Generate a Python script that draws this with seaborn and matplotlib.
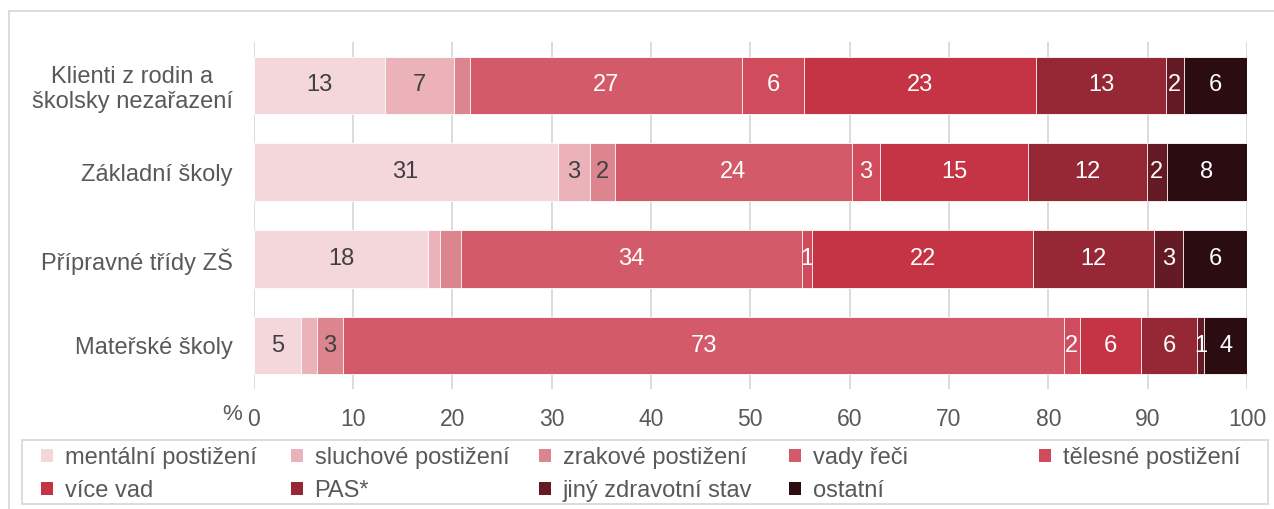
import numpy as np
import pandas as pd
import matplotlib
matplotlib.use("Agg")
import matplotlib.pyplot as plt
from matplotlib.patches import Rectangle
import seaborn as sns

# ---------------- data ----------------
categories = ["Klienti z rodin a\nškolsky nezařazení", "Základní školy",
              "Přípravné třídy ZŠ", "Mateřské školy"]
series = ["mentální postižení", "sluchové postižení", "zrakové postižení",
          "vady řeči", "tělesné postižení", "více vad", "PAS*",
          "jiný zdravotní stav", "ostatní"]

mentalni = [13.2, 30.6, 17.6, 4.8]
sluchove = [7.0, 3.3, 1.2, 1.6]
zrakove = [1.6, 2.45, 2.1, 2.6]
vady_reci = [27.4, 23.85, 34.3, 72.6]
telesne = [6.2, 2.9, 1.05, 1.55]
vice_vad = [23.4, 14.9, 22.25, 6.2]
pas = [13.0, 11.9, 12.1, 5.6]
jiny = [1.85, 2.0, 3.0, 0.75]
ostatni = [6.35, 8.1, 6.4, 4.3]

# (category index, series index) pairs whose value label is not shown
hidden_labels = [(0, 2), (2, 1), (2, 2), (3, 1)]

x_ticks = [0, 10, 20, 30, 40, 50, 60, 70, 80, 90, 100]

colors = ["#F4D7DB", "#EBB3B9", "#DD858E", "#D35A69", "#D04C5D",
          "#C43445", "#962734", "#641A24", "#2B0C10"]
label_colors = ["#404040"] * 3 + ["white"] * 6

# ---------------- figure ----------------
sns.set_style("white")
plt.rcParams["font.family"] = ["Liberation Sans", "DejaVu Sans"]

W, H = 1274, 509
fig = plt.figure(figsize=(W / 100, H / 100), dpi=100)
ax = fig.add_axes([253.5 / W, 1 - 389 / H, (1247 - 253.5) / W, (389 - 42) / H])

df = pd.DataFrame(dict(zip(series, [mentalni, sluchove, zrakove, vady_reci, telesne,
                                    vice_vad, pas, jiny, ostatni])))
df["kategorie"] = categories
cum = df[series].cumsum(axis=1)
cum["kategorie"] = categories

handles = [None] * len(series)
for i in reversed(range(len(series))):
    sns.barplot(data=cum, x=series[i], y="kategorie", color=colors[i], orient="h",
                width=0.66, saturation=1, edgecolor="white", linewidth=0.6, ax=ax)
    handles[i] = ax.containers[-1]

# value labels
for ci in range(len(categories)):
    prev = 0.0
    for si, s in enumerate(series):
        v = df.loc[ci, s]
        end = cum.loc[ci, s]
        if (ci, si) not in hidden_labels:
            ax.text((prev + end) / 2, ci, f"{round(v)}", ha="center", va="center",
                    fontsize=17, color=label_colors[si])
        prev = end

ax.set_xlim(0, 100)
ax.set_ylim(3.5, -0.5)
ax.set_xticks(x_ticks)
ax.set_xlabel("")
ax.set_ylabel("")
for sp in ax.spines.values():
    sp.set_visible(False)
ax.grid(axis="x", color="#D9D9D9", linewidth=1.3)
ax.grid(axis="y", visible=False)
ax.set_axisbelow(True)
ax.tick_params(axis="x", length=0, pad=14, labelsize=16.5, labelcolor="#595959")
ax.tick_params(axis="y", length=0, pad=15, labelsize=17, labelcolor="#595959")
for lab in ax.get_yticklabels():
    lab.set_multialignment("center")

fig.text(242 / W, 1 - 414 / H, "%", ha="right", va="center", fontsize=16, color="#595959")

# legend: equal-width columns
col_x = [41, 291, 539, 789, 1039]
for c, x in enumerate(col_x):
    idx = [k for k in (c, c + 5) if k < len(series)]
    leg = fig.legend([handles[k] for k in idx], [series[k] for k in idx],
                     loc="upper left", bbox_to_anchor=(x / W, 1 - 447 / H),
                     frameon=False, borderpad=0, borderaxespad=0,
                     handlelength=0.5, handleheight=0.5, handletextpad=0.5,
                     labelspacing=0.47, fontsize=17, labelcolor="#595959")
    for h in leg.legend_handles:
        h.set_edgecolor("none")
        h.set_linewidth(0)

fig.add_artist(Rectangle((22 / W, 1 - 504 / H), (1268 - 22) / W, 64 / H,
                         transform=fig.transFigure, fill=False,
                         edgecolor="#D9D9D9", linewidth=1.3))
fig.add_artist(Rectangle((9 / W, -0.05), 1.0, 1 - 11 / H + 0.05,
                         transform=fig.transFigure, fill=False,
                         edgecolor="#D9D9D9", linewidth=1.3))

fig.savefig("out.png", dpi=100)
